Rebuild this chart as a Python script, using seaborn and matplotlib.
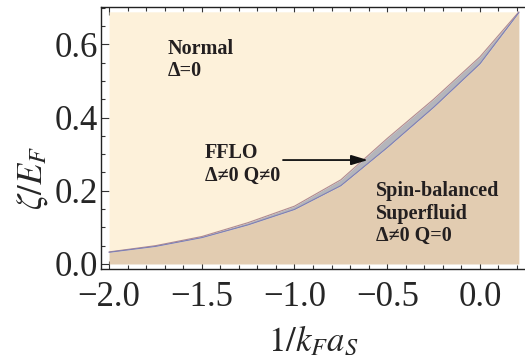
import numpy as np
import pandas as pd
import matplotlib
matplotlib.use("Agg")
import matplotlib.pyplot as plt
import seaborn as sns
from matplotlib.ticker import MultipleLocator, FuncFormatter

# Phase boundaries
inv_kfa = [-2.0, -1.75, -1.5, -1.25, -1.0, -0.75, -0.5, -0.25, 0.0, 0.21]
zeta_normal_fflo = [0.033, 0.050, 0.075, 0.113, 0.158, 0.230, 0.343, 0.450, 0.566, 0.689]
zeta_fflo_sf = [0.032, 0.048, 0.072, 0.107, 0.149, 0.214, 0.318, 0.428, 0.547, 0.687]
zeta_top = 0.689

df = pd.DataFrame({'x': inv_kfa, 'upper': zeta_normal_fflo, 'lower': zeta_fflo_sf})

sns.set_style("ticks")
plt.rcParams['font.family'] = ['Liberation Serif', 'DejaVu Serif']
plt.rcParams['mathtext.fontset'] = 'stix'

fig = plt.figure(figsize=(5.25, 3.6), dpi=100)
ax = fig.add_axes([100.7 / 525, 91 / 360, 424.3 / 525, 262.3 / 360])

# phase regions
ax.fill_between(df['x'], df['upper'], zeta_top, color='#fdf1da', lw=0)
ax.fill_between(df['x'], df['lower'], df['upper'], color='#b4b5bb', lw=0)
ax.fill_between(df['x'], 0, df['lower'], color='#e2ccb1', lw=0)
sns.lineplot(data=df, x='x', y='upper', ax=ax, color='#b08a90', lw=0.8)
sns.lineplot(data=df, x='x', y='lower', ax=ax, color='#7f7fb5', lw=0.8)

ax.set_xlim(-2.045, 0.243)
ax.set_ylim(-0.0137, 0.703)

fmt = FuncFormatter(lambda v, p: f'{v:.1f}'.replace('-', '\u2212'))
ax.xaxis.set_major_locator(MultipleLocator(0.5))
ax.xaxis.set_minor_locator(MultipleLocator(0.1))
ax.yaxis.set_major_locator(MultipleLocator(0.2))
ax.yaxis.set_minor_locator(MultipleLocator(0.05))
ax.xaxis.set_major_formatter(fmt)
ax.yaxis.set_major_formatter(fmt)
ax.tick_params(which='both', direction='in', top=True, right=False,
               labelsize=25, width=0.8, color='#333333')
ax.tick_params(which='major', length=6)
ax.tick_params(which='minor', length=3)
ax.tick_params(axis='x', pad=9)
ax.tick_params(axis='y', pad=2)
ax.spines['right'].set_visible(False)
for s in ['left', 'bottom', 'top']:
    ax.spines[s].set_linewidth(1.0)
    ax.spines[s].set_color('#222222')

ax.set_xlabel(r'$1/k_F a_S$', fontsize=25, va='center')
ax.set_ylabel(r'$\zeta/E_F$', fontsize=25, va='center')
ax.xaxis.set_label_coords(0.5, -0.28)
ax.yaxis.set_label_coords(-0.16, 0.347)

txt = dict(fontsize=14.5, fontweight='bold', color='#231f20', va='top', ha='left',
           linespacing=1.15)
ax.text(-1.682, 0.615, 'Normal\nΔ=0', **txt)
ax.text(-1.482, 0.33, 'FFLO\nΔ≠0 Q≠0', **txt)
ax.text(-0.561, 0.226, 'Spin-balanced\nSuperfluid\nΔ≠0 Q=0', **txt)

ax.annotate('', xy=(-0.604, 0.284), xytext=(-1.062, 0.284),
            arrowprops=dict(arrowstyle='-|>,head_length=1.0,head_width=0.3',
                            color='#111111', lw=1.3, shrinkA=0, shrinkB=0))

fig.savefig('out.png', dpi=100)
